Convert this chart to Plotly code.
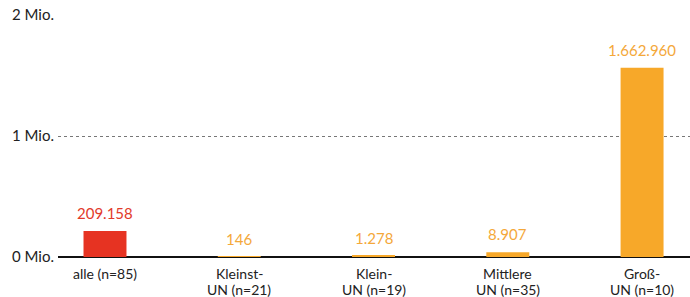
import plotly.graph_objects as go

categories = ["alle (n=85)", "Kleinst-<br>UN (n=21)", "Klein-<br>UN (n=19)", "Mittlere<br>UN (n=35)", "Groß-<br>UN (n=10)"]
values = [209158, 146, 1278, 8907, 1662960]
value_labels = ["209.158", "146", "1.278", "8.907", "1.662.960"]
# bar heights as drawn in the reference (small bars given visible minimum heights)
bar_heights = [215000, 146, 11000, 39000, 1565000]
bar_colors = ["#e63322", "#f7a829", "#f7a829", "#f7a829", "#f7a829"]
label_colors = ["#e23a2a", "#f4a83a", "#f4a83a", "#f4a83a", "#f4a83a"]
tick_vals = [0, 1000000, 2000000]
tick_text = ["0 Mio.", "1 Mio.", "2 Mio."]

x = list(range(len(categories)))

fig = go.Figure()
fig.add_trace(go.Bar(x=x, y=bar_heights, marker=dict(color=bar_colors, line=dict(width=0)),
                     width=0.32, hoverinfo="skip"))

for i, (h, t, c) in enumerate(zip(bar_heights, value_labels, label_colors)):
    fig.add_annotation(x=i, y=h, text=t, showarrow=False, yanchor="bottom", yshift=7,
                       font=dict(color=c, size=15, family="Lato"))

# category labels, one annotation per line for tighter line spacing
for i, cat in enumerate(categories):
    for j, line in enumerate(cat.split("<br>")):
        fig.add_annotation(x=i, xref="x", y=0, yref="paper", text=line, showarrow=False,
                           yanchor="middle", yshift=-16.5 - 15.5 * j, borderpad=0,
                           font=dict(color="#222222", size=14, family="Lato"))

fig.update_layout(
    width=690, height=297,
    margin=dict(l=58, r=0, t=15, b=40),
    paper_bgcolor="white", plot_bgcolor="white",
    showlegend=False,
    font=dict(family="Lato", size=13, color="#222222"),
    xaxis=dict(range=[-0.35, 4.357], tickvals=x, showticklabels=False, showgrid=False,
               showline=False, ticks=""),
    yaxis=dict(range=[0, 2000000], tickvals=tick_vals, ticktext=tick_text,
               showgrid=True, gridcolor="#777777", griddash="dot", gridwidth=1,
               zeroline=True, zerolinecolor="#111111", zerolinewidth=2,
               ticks="", tickfont=dict(size=15, color="#222222"), ticklabelstandoff=3),
)

fig.write_html("out.html", config={"displayModeBar": False},
               post_script="document.body.style.margin='0';document.body.style.overflow='hidden';")
